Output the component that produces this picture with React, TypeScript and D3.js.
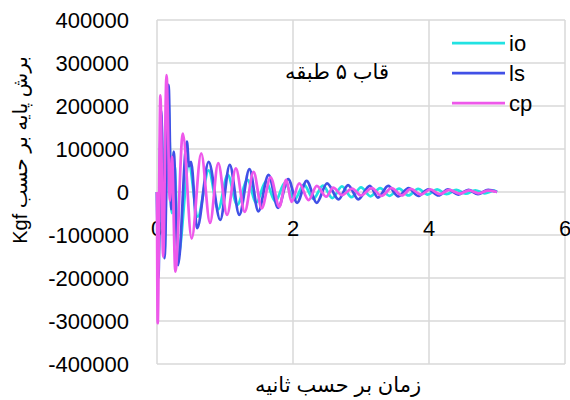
import * as d3 from "d3";

// time (s), base shear (kgf) — peaks and troughs
const ioPoints: [number, number][] = [
  [0, 0], [0.02, -150000], [0.06, 180000], [0.11, -140000], [0.16, 230000],
  [0.22, -49000], [0.26, 60000], [0.31, -150000], [0.47, 63000], [0.6, -57000],
  [0.76, 50000], [0.9, -40000], [1.04, 40000], [1.18, -30000], [1.33, 28000],
  [1.46, -25000], [1.6, 24000], [1.74, -22000], [1.88, 21000], [2.02, -18000],
  [2.16, 17000], [2.3, -16000], [2.44, 15000], [2.58, -14000], [2.72, 13000],
  [2.86, -12000], [3.0, 11000], [3.14, -10000], [3.28, 9000], [3.42, -9000],
  [3.56, 8000], [3.7, -8000], [3.84, 7000], [3.98, -6000], [4.12, 6000],
  [4.26, -5000], [4.4, 5000], [4.54, -4000], [4.68, 4000], [4.82, -3000],
  [4.96, 3000], [5.0, 0],
];

const lsPoints: [number, number][] = [
  [0, 0], [0.02, -200000], [0.06, 190000], [0.11, -154000], [0.17, 249000],
  [0.21, -40000], [0.245, 94000], [0.31, -170000], [0.44, 117000], [0.47, 60000],
  [0.5, 70000], [0.59, -84000], [0.76, 70000], [0.93, -65000], [1.07, 63000],
  [1.21, -53000], [1.36, 53000], [1.49, -45000], [1.64, 40000], [1.78, -37000],
  [1.93, 30000], [2.06, -25000], [2.2, 26000], [2.35, -25000], [2.5, 20000],
  [2.67, -17000], [2.81, 16000], [2.96, -17000], [3.13, 14000], [3.25, -13000],
  [3.4, 14000], [3.55, -10000], [3.7, 9000], [3.84, -9000], [3.99, 6000],
  [4.14, -8000], [4.28, 6000], [4.43, -6000], [4.58, 5000], [4.72, -5000],
  [4.87, 5000], [5.0, 0],
];

const cpPoints: [number, number][] = [
  [0, 0], [0.01, -305000], [0.05, 225000], [0.09, -150000], [0.14, 272000],
  [0.19, -20000], [0.22, 82000], [0.27, -185000], [0.38, 136000], [0.51, -108000],
  [0.65, 90000], [0.78, -72000], [0.9, 67000], [1.03, -53000], [1.16, 55000],
  [1.29, -46000], [1.42, 47000], [1.54, -38000], [1.67, 34000], [1.8, -34000],
  [1.9, 28000], [1.98, -23000], [2.09, 20000], [2.23, -19000], [2.35, 14000],
  [2.49, -11000], [2.59, 10000], [2.72, -7000], [2.87, 8000], [3.0, -8000],
  [3.16, 9000], [3.3, -9000], [3.45, 9000], [3.6, -8000], [3.73, 7000],
  [3.88, -6000], [4.02, 6000], [4.16, -5000], [4.3, 5000], [4.45, -4000],
  [4.59, 4000], [4.73, -3000], [4.87, 3000], [5.0, 0],
];

const seriesNames = ["io", "ls", "cp"];
const seriesColors = ["#22e2e2", "#4150e6", "#ee58ea"];
const xTicks = [0, 2, 4, 6];
const yTicks = [400000, 300000, 200000, 100000, 0, -100000, -200000, -300000, -400000];

const chartTitle = "قاب ۵ طبقه";
const xTitle = "زمان بر حسب ثانیه";
const yTitle = "Kgf برش پایه بر حسب";

const W = 570;
const H = 400;
const plot = { left: 157, right: 565, top: 20, bottom: 364 };
const font = "'Liberation Sans', 'DejaVu Sans', sans-serif";

export default function App() {
  const x = d3.scaleLinear().domain([0, 6]).range([plot.left, plot.right]);
  const y = d3.scaleLinear().domain([-400000, 400000]).range([plot.bottom, plot.top]);

  const line = d3
    .line<[number, number]>()
    .x((d) => x(d[0]))
    .y((d) => y(d[1]))
    .curve(d3.curveMonotoneX);

  const series = [ioPoints, lsPoints, cpPoints];

  return (
    <svg
      width={W}
      height={H}
      style={{ position: "absolute", left: 0, top: 0, background: "#fff" }}
      fontFamily={font}
    >
      {yTicks.map((t) => (
        <line key={"gy" + t} x1={plot.left} x2={plot.right} y1={y(t)} y2={y(t)} stroke="#d9d9d9" strokeWidth={1.5} />
      ))}
      {xTicks.map((t) => (
        <line key={"gx" + t} x1={x(t)} x2={x(t)} y1={plot.top} y2={plot.bottom} stroke="#d9d9d9" strokeWidth={1.5} />
      ))}

      {yTicks.map((t) => (
        <text key={"ty" + t} x={129} y={y(t)} dy="0.35em" textAnchor="end" fontSize={22} fill="#000">
          {String(t)}
        </text>
      ))}
      {xTicks.map((t) => (
        <text key={"tx" + t} x={x(t)} y={y(0) + 36} dy="0.35em" textAnchor="middle" fontSize={22} fill="#000">
          {t}
        </text>
      ))}

      {series.map((pts, i) => (
        <path
          key={seriesNames[i]}
          d={line(pts) ?? ""}
          fill="none"
          stroke={seriesColors[i]}
          strokeWidth={2.75}
          strokeLinejoin="round"
        />
      ))}

      <text x={337} y={72} dy="0.35em" textAnchor="middle" fontSize={21} fill="#000">
        {chartTitle}
      </text>

      {seriesNames.map((name, i) => (
        <g key={"lg" + name} transform={`translate(452,${43 + i * 30})`}>
          <line x1={0} x2={53} y1={0} y2={0} stroke={seriesColors[i]} strokeWidth={2.75} />
          <text x={57} y={0} dy="0.35em" fontSize={22} fill="#000">
            {name}
          </text>
        </g>
      ))}

      <text x={338} y={385} dy="0.35em" textAnchor="middle" fontSize={21} fill="#000">
        {xTitle}
      </text>
      <text
        transform="translate(20,150) rotate(-90)"
        textAnchor="middle"
        dy="0.35em"
        fontSize={20}
        fill="#000"
      >
        {yTitle}
      </text>
    </svg>
  );
}
